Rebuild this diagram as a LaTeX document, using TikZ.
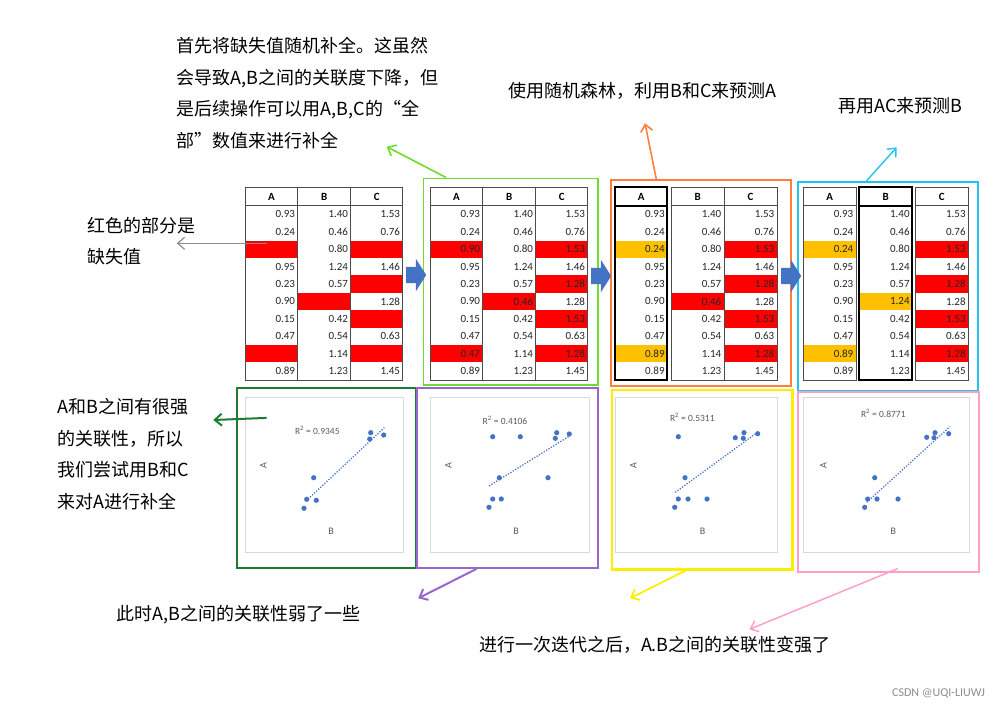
\documentclass[tikz,border=0pt]{standalone}
\usepackage{fontspec}
\usetikzlibrary{arrows.meta, positioning, shapes.arrows, fit, calc}
\newfontfamily\cjk{Noto Sans CJK SC}
\newfontfamily\tabfont{Carlito}
\definecolor{cellr}{HTML}{FF0000}
\definecolor{celly}{HTML}{FFC000}
\definecolor{celln}{HTML}{FFFFFF}
\definecolor{arrowblue}{HTML}{4472C4}
\definecolor{limegreen}{HTML}{6FDC2C}
\definecolor{darkgreen}{HTML}{1E7B34}
\definecolor{orange2}{HTML}{FF7F3F}
\definecolor{cyan2}{HTML}{22C3F0}
\definecolor{purple2}{HTML}{9966CC}
\definecolor{yellow2}{HTML}{FFEE00}
\definecolor{pink2}{HTML}{FF9EC8}
\definecolor{arrowgrey}{HTML}{8C8C8C}
\definecolor{chartgrey}{HTML}{D9D9D9}
\definecolor{labelgrey}{HTML}{595959}
\tikzset{
  num/.style={anchor=east, inner sep=0, font=\tabfont\fontsize{11}{11}\selectfont, text=black!85},
  colhead/.style={inner sep=0, font=\tabfont\bfseries\fontsize{11}{11}\selectfont},
  tline/.style={draw=black!70, line width=0.8pt},
  tbold/.style={draw=black, line width=1.8pt},
  panel/.style={draw, inner sep=0, line width=1.8pt},
  chartbox/.style={draw=chartgrey, inner sep=0, line width=0.8pt},
  scatterdot/.style={fill=arrowblue},
  trend/.style={draw=arrowblue, line width=1.3pt, dash pattern=on 1.2pt off 1.6pt},
  rsq/.style={inner sep=0, font=\tabfont\fontsize{9.5}{9.5}\selectfont, text=labelgrey},
  axl/.style={inner sep=0, font=\tabfont\fontsize{10}{10}\selectfont, text=labelgrey},
  note/.style={inner sep=0, align=left, font=\cjk\fontsize{18}{31.5}\selectfont},
  blockar/.style={single arrow, fill=arrowblue, inner xsep=0pt, inner ysep=8pt,
    minimum height=20pt, single arrow head extend=8pt, single arrow tip angle=115, anchor=west},
  callout/.style={-{Straight Barb[length=7pt, width=12pt]}, line width=1.6pt},
  wmark/.style={inner sep=0, font=\tabfont\fontsize{12}{12}\selectfont, text=black!45},
}
% one column of a table: name, left x, right x, value/colour list
\newcommand{\datacol}[4]{%
  \foreach \val/\tone [count=\i] in {#4}{%
    \fill[fill=cell\tone] (#2,{188.3+17.4*\i}) rectangle (#3,{205.7+17.4*\i});
    \node[num] (#1-\i) at ({#3-2.5},{197+17.4*\i}) {\val};
  }%
}
\newcommand{\tabframe}[3][tline]{\draw[#1] (#2,187.3) rectangle (#3,380) (#2,205.7) -- (#3,205.7);}

\begin{document}
\begin{tikzpicture}[x=1pt, y=-1pt]
\useasboundingbox (0,0) rectangle (1000,710);

% table 1: raw data, red = missing
\datacol{t1a}{245}{297.7}{0.93/n,0.24/n,/r,0.95/n,0.23/n,0.90/n,0.15/n,0.47/n,/r,0.89/n}
\datacol{t1b}{297.7}{350.7}{1.40/n,0.46/n,0.80/n,1.24/n,0.57/n,/r,0.42/n,0.54/n,1.14/n,1.23/n}
\datacol{t1c}{350.7}{402.7}{1.53/n,0.76/n,/r,1.46/n,/r,1.28/n,/r,0.63/n,/r,1.45/n}
\tabframe{245}{402.7}
\draw[tline] (297.7,187.3) -- (297.7,380) (350.7,187.3) -- (350.7,380);
\node[colhead] (t1-A) at (271.35,196.5) {A};
\node[colhead] (t1-B) at (324.2,196.5) {B};
\node[colhead] (t1-C) at (376.7,196.5) {C};

% table 2: random fill
\datacol{t2a}{430}{482.7}{0.93/n,0.24/n,0.90/r,0.95/n,0.23/n,0.90/n,0.15/n,0.47/n,0.47/r,0.89/n}
\datacol{t2b}{482.7}{535.7}{1.40/n,0.46/n,0.80/n,1.24/n,0.57/n,0.46/r,0.42/n,0.54/n,1.14/n,1.23/n}
\datacol{t2c}{535.7}{587.7}{1.53/n,0.76/n,1.53/r,1.46/n,1.28/r,1.28/n,1.53/r,0.63/n,1.28/r,1.45/n}
\tabframe{430}{587.7}
\draw[tline] (482.7,187.3) -- (482.7,380) (535.7,187.3) -- (535.7,380);
\node[colhead] (t2-A) at (456.35,196.5) {A};
\node[colhead] (t2-B) at (509.2,196.5) {B};
\node[colhead] (t2-C) at (561.7,196.5) {C};

% table 3: A predicted
\datacol{t3a}{615}{667.3}{0.93/n,0.24/n,0.24/y,0.95/n,0.23/n,0.90/n,0.15/n,0.47/n,0.89/y,0.89/n}
\datacol{t3b}{671.3}{724}{1.40/n,0.46/n,0.80/n,1.24/n,0.57/n,0.46/r,0.42/n,0.54/n,1.14/n,1.23/n}
\datacol{t3c}{724}{777}{1.53/n,0.76/n,1.53/r,1.46/n,1.28/r,1.28/n,1.53/r,0.63/n,1.28/r,1.45/n}
\tabframe[tbold]{615}{667.3}
\tabframe{671.3}{777}
\draw[tline] (724,187.3) -- (724,380);
\node[colhead] (t3-A) at (641.15,196.5) {A};
\node[colhead] (t3-B) at (697.65,196.5) {B};
\node[colhead] (t3-C) at (750.5,196.5) {C};

% table 4: B predicted
\datacol{t4a}{803.3}{856}{0.93/n,0.24/n,0.24/y,0.95/n,0.23/n,0.90/n,0.15/n,0.47/n,0.89/y,0.89/n}
\datacol{t4b}{859.3}{912.3}{1.40/n,0.46/n,0.80/n,1.24/n,0.57/n,1.24/y,0.42/n,0.54/n,1.14/n,1.23/n}
\datacol{t4c}{915}{968.3}{1.53/n,0.76/n,1.53/r,1.46/n,1.28/r,1.28/n,1.53/r,0.63/n,1.28/r,1.45/n}
\tabframe{803.3}{856}
\tabframe[tbold]{859.3}{912.3}
\tabframe{915}{968.3}
\node[colhead] (t4-A) at (829.65,196.5) {A};
\node[colhead] (t4-B) at (885.8,196.5) {B};
\node[colhead] (t4-C) at (941.65,196.5) {C};

% scatter charts
\node[chartbox, fit={(245,397.3) (403.3,552.7)}] (ch1) {};
\node[chartbox, fit={(430,397.3) (589,552.7)}] (ch2) {};
\node[chartbox, fit={(615,397.3) (777.7,552.7)}] (ch3) {};
\node[chartbox, fit={(803.3,397.3) (969.3,552.7)}] (ch4) {};
\node[rsq] (r1) at (317.3,430) {R\textsuperscript{2} = 0.9345};
\node[rsq] (r2) at (505,420.7) {R\textsuperscript{2} = 0.4106};
\node[rsq] (r3) at (692.3,417.7) {R\textsuperscript{2} = 0.5311};
\node[rsq] (r4) at (883.3,413.3) {R\textsuperscript{2} = 0.8771};
\foreach \yx/\xx [count=\k] in {263.3/331, 448.3/516, 633.3/702.7, 823.3/893.3}{
  \node[axl, rotate=90] (ya\k) at (\yx,466) {A};
  \node[axl] (xa\k) at (\xx,531.7) {B};
}
\draw[trend] (306,501) -- (384.3,427.7);
\draw[trend] (489,486) -- (570,435.7);
\draw[trend] (675.3,492.3) -- (758.3,431.7);
\draw[trend] (866.7,502.3) -- (950,426.7);
\foreach \p in {(313.7,477.7),(306.7,499.3),(316.3,500.3),(304,508.3),(370.7,432.7),(369.7,439),(383.7,435),
  (492.7,436.7),(520.3,436.7),(556.7,432.7),(555.3,438.3),(569.3,434),(499.3,477.7),(548,477.7),(492.7,499),(501.3,499),(489,507.3),
  (678.3,436.7),(735.3,437.7),(744,432.7),(743.3,438.3),(757.7,433.7),(685,477.7),(678.3,499),(688,499),(707,499),(674.7,507.3),
  (874.7,477.7),(867.7,499),(877,499),(898,499),(864.7,507.3),(926.7,437.3),(935,432.7),(934,437.7),(948.7,433.7)}
  \fill[scatterdot] \p circle (2.6pt);

% coloured frames
\node[panel, draw=darkgreen, line width=2pt, fit={(236.7,388.3) (416,567.7)}] (fr1) {};
\node[panel, draw=limegreen, line width=1.6pt, fit={(423.3,178.3) (597.7,385)}] (fr2) {};
\node[panel, draw=orange2, line width=1.6pt, fit={(611,179.7) (790.7,386)}] (fr3) {};
\node[panel, draw=cyan2, line width=1.6pt, fit={(797.7,181.7) (977.7,391)}] (fr4) {};
\node[panel, draw=purple2, line width=2.2pt, fit={(416.7,388.3) (597.7,567.7)}] (fr5) {};
\node[panel, draw=yellow2, line width=2.4pt, fit={(611.7,390) (792.3,569.3)}] (fr6) {};
\node[panel, draw=pink2, line width=1.8pt, fit={(798.3,392.3) (979.3,571.7)}] (fr7) {};

% step arrows between tables
\node[blockar] (go12) at (406,275) {};
\node[blockar] (go23) at (591,276) {};
\node[blockar] (go34) at (781,276) {};

% notes
\node[note, anchor=north west] (randnote) at (176.7,37)
  {首先将缺失值随机补全。这虽然\\会导致A,B之间的关联度下降，但\\是后续操作可以用A,B,C的“全\\部”数值来进行补全};
\node[note, anchor=north west] (missnote) at (87.3,217) {红色的部分是\\缺失值};
\node[note, anchor=north west] (corrnote) at (57.3,398.5)
  {A和B之间有很强\\的关联性，所以\\我们尝试用B和C\\来对A进行补全};
\node[note, anchor=west] (rfnote) at (508.3,90.7) {使用随机森林，利用B和C来预测A};
\node[note, anchor=west] (acnote) at (838.3,105.7) {再用AC来预测B};
\node[note, anchor=west] (weaknote) at (116.5,615) {此时A,B之间的关联性弱了一些};
\node[note, anchor=west] (strongnote) at (478.8,645) {进行一次迭代之后，A.B之间的关联性变强了};
\node[wmark, anchor=east] (csdn) at (985,693) {CSDN @UQI-LIUWJ};

% callout arrows
\coordinate (miss) at (267,243.3);
\coordinate (missTip) at (176.7,243.3);
\coordinate (randTip) at (386.7,146.7);
\coordinate (rfTip) at (645,123.3);
\coordinate (acTip) at (896.7,147.3);
\coordinate (corrTip) at (213.3,420);
\coordinate (weakTip) at (418.2,598.3);
\coordinate (yelTip) at (630,598.3);
\coordinate (strongTip) at (749.4,629.3);
\draw[callout, arrowgrey, line width=1.2pt] (miss) -- (missTip);
\draw[callout, limegreen] ($(fr2.north west)!0.134!(fr2.north east)$) -- (randTip);
\draw[callout, orange2] ($(fr3.north west)!0.254!(fr3.north east)$) -- (rfTip);
\draw[callout, cyan2, line width=1.4pt] ($(fr4.north west)!0.383!(fr4.north east)$) -- (acTip);
\draw[callout, darkgreen, line width=2pt] ($(ch1.north west)+(22,21)$) -- (corrTip);
\draw[callout, purple2, line width=2pt] ($(fr5.south west)!0.333!(fr5.south east)$) -- (weakTip);
\draw[callout, yellow2, line width=1.8pt] ($(fr6.south west)!0.411!(fr6.south east)$) -- (yelTip);
\draw[callout, pink2, line width=1.5pt] ($(fr7.south west)!0.549!(fr7.south east)+(0,-4)$) -- (strongTip);
\end{tikzpicture}
\end{document}
